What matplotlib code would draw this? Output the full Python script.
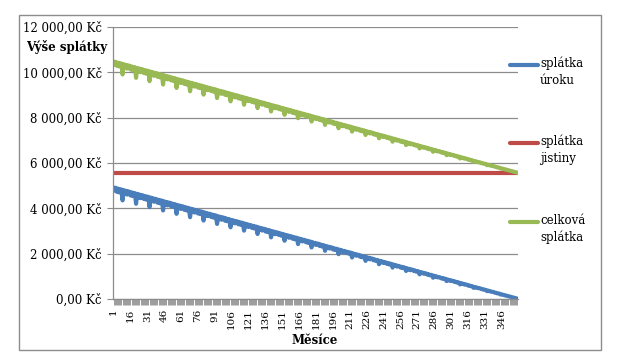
import matplotlib
matplotlib.use("Agg")
import matplotlib.pyplot as plt
from matplotlib.patches import Rectangle
from matplotlib.lines import Line2D
from matplotlib.ticker import FuncFormatter

mesice = list(range(1, 361))

splatka_uroku = [
    4767, 4912, 4899, 4727, 4871, 4701, 4844, 4830, 4350, 4803, 4635, 4776,
    4608, 4748, 4734, 4568, 4707, 4542, 4680, 4666, 4202, 4639, 4476, 4611,
    4449, 4584, 4570, 4410, 4543, 4383, 4516, 4502, 4054, 4474, 4317, 4447,
    4290, 4420, 4406, 4251, 4379, 4224, 4351, 4338, 3906, 4310, 4158, 4283,
    4132, 4256, 4242, 4092, 4214, 4065, 4187, 4173, 3757, 4146, 3999, 4119,
    3973, 4091, 4078, 3933, 4050, 3906, 4023, 4009, 3609, 3982, 3840, 3955,
    3814, 3927, 3913, 3774, 3886, 3747, 3859, 3845, 3461, 3818, 3681, 3790,
    3655, 3763, 3749, 3615, 3722, 3589, 3695, 3681, 3312, 3653, 3522, 3626,
    3496, 3599, 3585, 3456, 3558, 3430, 3530, 3517, 3164, 3489, 3363, 3462,
    3337, 3435, 3421, 3297, 3393, 3271, 3366, 3352, 3016, 3325, 3205, 3298,
    3178, 3270, 3257, 3138, 3229, 3112, 3202, 3188, 2867, 3161, 3046, 3134,
    3019, 3106, 3092, 2979, 3065, 2953, 3038, 3024, 2719, 2997, 2887, 2969,
    2860, 2942, 2928, 2821, 2901, 2794, 2874, 2860, 2571, 2832, 2728, 2805,
    2701, 2778, 2764, 2662, 2737, 2635, 2709, 2696, 2422, 2668, 2569, 2641,
    2542, 2614, 2600, 2503, 2572, 2476, 2545, 2531, 2274, 2504, 2410, 2477,
    2384, 2449, 2436, 2344, 2408, 2317, 2381, 2367, 2126, 2340, 2251, 2312,
    2225, 2285, 2271, 2185, 2244, 2158, 2217, 2203, 1977, 2176, 2092, 2148,
    2066, 2121, 2107, 2026, 2080, 2000, 2053, 2039, 1829, 2011, 1933, 1984,
    1907, 1957, 1943, 1867, 1916, 1841, 1888, 1875, 1681, 1847, 1774, 1820,
    1748, 1793, 1779, 1708, 1751, 1682, 1724, 1710, 1533, 1683, 1616, 1656,
    1589, 1628, 1615, 1549, 1587, 1523, 1560, 1546, 1384, 1519, 1457, 1492,
    1430, 1464, 1450, 1390, 1423, 1364, 1396, 1382, 1236, 1355, 1298, 1327,
    1271, 1300, 1286, 1231, 1259, 1205, 1231, 1218, 1088, 1190, 1139, 1163,
    1112, 1136, 1122, 1073, 1095, 1046, 1067, 1054, 939, 1026, 980, 999,
    953, 972, 958, 914, 930, 887, 903, 889, 791, 862, 821, 835,
    795, 807, 794, 755, 766, 728, 739, 725, 643, 698, 662, 670,
    636, 643, 629, 596, 602, 569, 575, 561, 494, 534, 503, 506,
    477, 479, 465, 437, 438, 410, 410, 397, 346, 369, 344, 342,
    318, 315, 301, 278, 274, 252, 246, 233, 198, 205, 185, 178,
    159, 151, 137, 119, 109, 93, 82, 68, 49, 41, 26, 14,
]

splatka_jistiny = [5555.56] * 360

celkova_splatka = [
    10323, 10468, 10455, 10283, 10427, 10257, 10400, 10386, 9906, 10359, 10191, 10332,
    10164, 10304, 10290, 10124, 10263, 10098, 10236, 10222, 9758, 10195, 10032, 10167,
    10005, 10140, 10126, 9966, 10099, 9939, 10072, 10058, 9610, 10030, 9873, 10003,
    9846, 9976, 9962, 9807, 9935, 9780, 9907, 9894, 9462, 9866, 9714, 9839,
    9688, 9812, 9798, 9648, 9770, 9621, 9743, 9729, 9313, 9702, 9555, 9675,
    9529, 9647, 9634, 9489, 9606, 9462, 9579, 9565, 9165, 9538, 9396, 9511,
    9370, 9483, 9469, 9330, 9442, 9303, 9415, 9401, 9017, 9374, 9237, 9346,
    9211, 9319, 9305, 9171, 9278, 9145, 9251, 9237, 8868, 9209, 9078, 9182,
    9052, 9155, 9141, 9012, 9114, 8986, 9086, 9073, 8720, 9045, 8919, 9018,
    8893, 8991, 8977, 8853, 8949, 8827, 8922, 8908, 8572, 8881, 8761, 8854,
    8734, 8826, 8813, 8694, 8785, 8668, 8758, 8744, 8423, 8717, 8602, 8690,
    8575, 8662, 8648, 8535, 8621, 8509, 8594, 8580, 8275, 8553, 8443, 8525,
    8416, 8498, 8484, 8377, 8457, 8350, 8430, 8416, 8127, 8388, 8284, 8361,
    8257, 8334, 8320, 8218, 8293, 8191, 8265, 8252, 7978, 8224, 8125, 8197,
    8098, 8170, 8156, 8059, 8128, 8032, 8101, 8087, 7830, 8060, 7966, 8033,
    7940, 8005, 7992, 7900, 7964, 7873, 7937, 7923, 7682, 7896, 7807, 7868,
    7781, 7841, 7827, 7741, 7800, 7714, 7773, 7759, 7533, 7732, 7648, 7704,
    7622, 7677, 7663, 7582, 7636, 7556, 7609, 7595, 7385, 7567, 7489, 7540,
    7463, 7513, 7499, 7423, 7472, 7397, 7444, 7431, 7237, 7403, 7330, 7376,
    7304, 7349, 7335, 7264, 7307, 7238, 7280, 7266, 7089, 7239, 7172, 7212,
    7145, 7184, 7171, 7105, 7143, 7079, 7116, 7102, 6940, 7075, 7013, 7048,
    6986, 7020, 7006, 6946, 6979, 6920, 6952, 6938, 6792, 6911, 6854, 6883,
    6827, 6856, 6842, 6787, 6815, 6761, 6787, 6774, 6644, 6746, 6695, 6719,
    6668, 6692, 6678, 6629, 6651, 6602, 6623, 6610, 6495, 6582, 6536, 6555,
    6509, 6528, 6514, 6470, 6486, 6443, 6459, 6445, 6347, 6418, 6377, 6391,
    6351, 6363, 6350, 6311, 6322, 6284, 6295, 6281, 6199, 6254, 6218, 6226,
    6192, 6199, 6185, 6152, 6158, 6125, 6131, 6117, 6050, 6090, 6059, 6062,
    6033, 6035, 6021, 5993, 5994, 5966, 5966, 5953, 5902, 5925, 5900, 5898,
    5874, 5871, 5857, 5834, 5830, 5808, 5802, 5789, 5754, 5761, 5741, 5734,
    5715, 5707, 5693, 5675, 5665, 5649, 5638, 5624, 5605, 5597, 5582, 5570,
]

nazvy = ["splátka\núroku", "splátka\njistiny", "celková\nsplátka"]
barvy = ["#4A7EBB", "#BE4B48", "#98B954"]
y_ticks = [0, 2000, 4000, 6000, 8000, 10000, 12000]
x_tick_labels = list(range(1, 361, 15))

plt.rcParams["font.family"] = ["DejaVu Serif"]

W, H = 620, 364
fig = plt.figure(figsize=(W / 100, H / 100), dpi=100)
fig.patches.append(Rectangle((19 / W, 1 - 350 / H), (601 - 19) / W, (350 - 15) / H,
                             transform=fig.transFigure, fill=False,
                             edgecolor="#8c8c8c", linewidth=1.0))

ax = fig.add_axes([113 / W, 1 - 299 / H, (518 - 113) / W, (299 - 27) / H])

lw = 3.0
for serie, nazev, barva in zip([splatka_uroku, splatka_jistiny, celkova_splatka], nazvy, barvy):
    ax.plot(mesice, serie, color=barva, linewidth=lw, label=nazev,
            solid_joinstyle="round", solid_capstyle="round")

ax.set_xlim(0.5, 360.5)
ax.set_ylim(0, 12000)
ax.set_yticks(y_ticks)
ax.yaxis.set_major_formatter(FuncFormatter(
    lambda v, p: "{:,.2f}".format(v).replace(",", " ").replace(".", ",") + " Kč"))
ax.grid(axis="y", color="#8c8c8c", linewidth=0.9)
ax.set_axisbelow(True)

ax.set_xticks(x_tick_labels)
ax.set_xticklabels([str(v) for v in x_tick_labels], rotation=90, fontsize=7.5)
ax.set_xticks(mesice, minor=True)
ax.tick_params(axis="x", which="both", length=4, width=0.6, color="#8c8c8c", pad=3)
ax.tick_params(axis="y", length=4, width=0.8, color="#8c8c8c", labelsize=8.5, pad=4)

for s in ["top", "right"]:
    ax.spines[s].set_visible(False)
for s in ["left", "bottom"]:
    ax.spines[s].set_color("#8c8c8c")
    ax.spines[s].set_linewidth(0.9)

fig.text(67 / W, 1 - 47 / H, "Výše splátky", ha="center", va="center",
         fontsize=8.5, fontweight="bold")
fig.text(315 / W, 1 - 341 / H, "Měsíce", ha="center", va="center",
         fontsize=8.5, fontweight="bold")

# legend: handle aligned with the first text line, as in the reference
leg_y = [65, 143, 222]
for yy, nazev, barva in zip(leg_y, nazvy, barvy):
    fig.add_artist(Line2D([510 / W, 538 / W], [1 - yy / H, 1 - yy / H],
                          transform=fig.transFigure, color=barva, linewidth=lw,
                          solid_capstyle="round"))
    fig.text(540 / W, 1 - (yy - 8) / H, nazev, ha="left", va="top",
             fontsize=8.5, linespacing=1.35)

fig.savefig("out.png", dpi=100)
